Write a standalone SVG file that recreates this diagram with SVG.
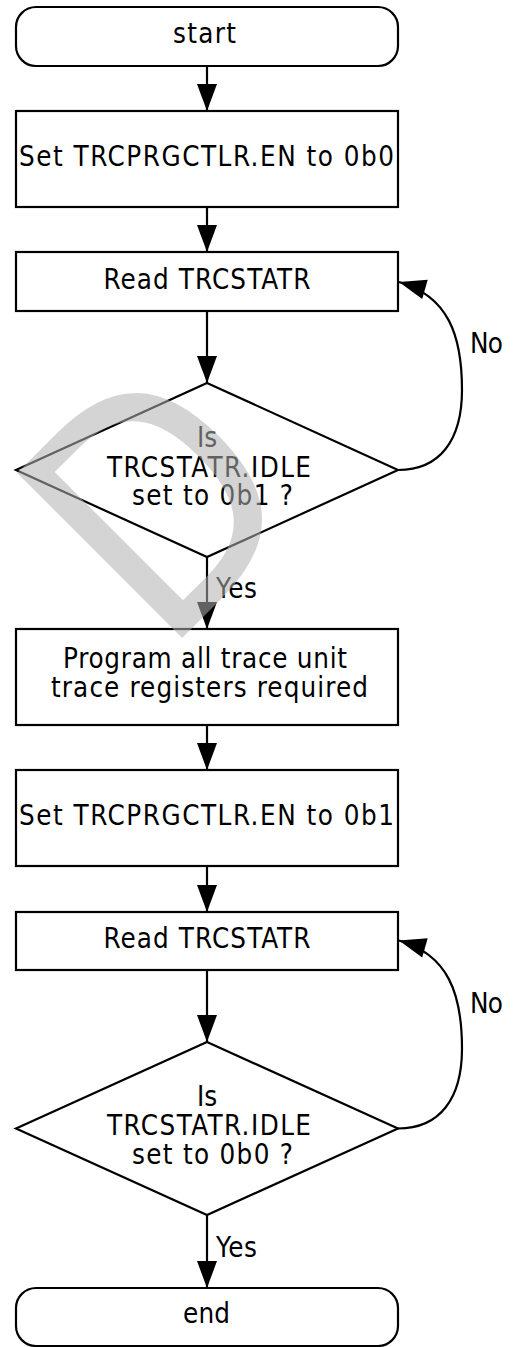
<svg xmlns="http://www.w3.org/2000/svg" width="527" height="1347" viewBox="0 0 527 1347">
<defs>
<style>
.n{fill:#fff;stroke:#000;stroke-width:2.2}
.t{font-family:"DejaVu Sans Condensed","DejaVu Sans",sans-serif;font-stretch:condensed;font-size:27.5px;fill:#000;text-anchor:middle}
.l{font-family:"DejaVu Sans Condensed","DejaVu Sans",sans-serif;font-stretch:condensed;font-size:27.5px;fill:#000}
.c{fill:none;stroke:#000;stroke-width:2.2}
.wm{font-family:"DejaVu Sans",sans-serif;font-size:320px;fill:#b0b0b0;fill-opacity:0.55}
</style>
<marker id="ah" markerUnits="userSpaceOnUse" viewBox="0 0 27 20" markerWidth="27" markerHeight="20" refX="27" refY="10" orient="auto" overflow="visible">
<path d="M0,0 L27,10 L0,20 Z" fill="#000"/>
</marker>
</defs>
<rect width="527" height="1347" fill="#fff"/>
<g id="start"><rect class="n" x="16" y="7" width="382" height="59" rx="20"/><text class="t" x="204.5" y="43" textLength="63">start</text></g>
<g id="set0"><rect class="n" x="16" y="111" width="382" height="96"/><text class="t" x="206.5" y="166" textLength="375">Set TRCPRGCTLR.EN to 0b0</text></g>
<g id="read1"><rect class="n" x="16" y="252" width="382" height="59"/><text class="t" x="207" y="289" textLength="207">Read TRCSTATR</text></g>
<g id="idle1"><polygon class="n" points="207,383 398,470 207,557 16,470"/><text class="t"><tspan x="207" y="447">Is</tspan><tspan x="209" y="477" textLength="204">TRCSTATR.IDLE</tspan><tspan x="212.5" y="505" textLength="161">set to 0b1 ?</tspan></text></g>
<g id="program"><rect class="n" x="16" y="629" width="382" height="96"/><text class="t"><tspan x="205" y="668" textLength="284">Program all trace unit</tspan><tspan x="209.5" y="697" textLength="317">trace registers required</tspan></text></g>
<g id="set1"><rect class="n" x="16" y="770" width="382" height="96"/><text class="t" x="206.5" y="825" textLength="375">Set TRCPRGCTLR.EN to 0b1</text></g>
<g id="read2"><rect class="n" x="16" y="912" width="382" height="58"/><text class="t" x="207" y="948" textLength="207">Read TRCSTATR</text></g>
<g id="idle0"><polygon class="n" points="207,1042 398,1128.5 207,1215 16,1128.5"/><text class="t"><tspan x="207" y="1106">Is</tspan><tspan x="209" y="1135" textLength="204">TRCSTATR.IDLE</tspan><tspan x="212.5" y="1164" textLength="161">set to 0b0 ?</tspan></text></g>
<g id="end"><rect class="n" x="16" y="1288" width="382" height="58" rx="20"/><text class="t" x="206.5" y="1323" textLength="47">end</text></g>
<g id="connectors">
<path class="c" marker-end="url(#ah)" d="M207,66 V111"/>
<path class="c" marker-end="url(#ah)" d="M207,207 V252"/>
<path class="c" marker-end="url(#ah)" d="M207,311 V383"/>
<path class="c" marker-end="url(#ah)" d="M207,557 V629"/>
<path class="c" marker-end="url(#ah)" d="M207,725 V770"/>
<path class="c" marker-end="url(#ah)" d="M207,866 V912"/>
<path class="c" marker-end="url(#ah)" d="M207,970 V1042"/>
<path class="c" marker-end="url(#ah)" d="M207,1215 V1288"/>
<path class="c" marker-end="url(#ah)" d="M398,470 C440,470 462,440 462,390 C462,335 448,296 399,282"/>
<path class="c" marker-end="url(#ah)" d="M398,1128.5 C440,1128.5 462,1098.5 462,1048.5 C462,993.5 448,954.5 399,940.5"/>
<text class="l" x="216" y="598" textLength="41">Yes</text>
<text class="l" x="470" y="353" textLength="33">No</text>
<text class="l" x="470" y="1013" textLength="33">No</text>
<text class="l" x="216" y="1257" textLength="41">Yes</text>
</g>
<g id="watermark"><text class="wm" transform="translate(163,657) rotate(-45) scale(0.86,1)" x="0" y="0">D</text></g>
</svg>
